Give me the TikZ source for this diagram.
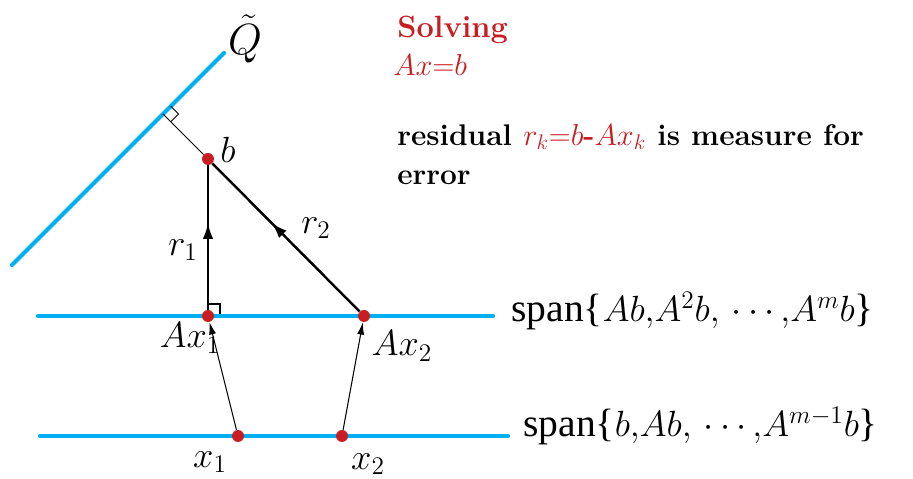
\documentclass[tikz,border=0pt]{standalone}
\usepackage{fontspec}
\setmainfont{Liberation Serif}
\newfontfamily\lmfont{Latin Modern Roman}
\usepackage{tikz}
\usetikzlibrary{arrows.meta, calc, decorations.markings}
\definecolor{myred}{RGB}{200,30,35}
\definecolor{myblue}{RGB}{0,176,240}
\tikzset{
  plane/.style={line width=2.4pt, color=myblue, line cap=round},
  resid/.style={line width=1.4pt, color=black, postaction={decorate},
    decoration={markings, mark=at position 0.6 with {\arrow{Latex[length=9pt,width=6pt]}}}},
  mapping/.style={-{Latex[length=7pt,width=4pt]}, line width=0.6pt},
  dot/.style={circle, fill=myred, inner sep=0pt, minimum size=0.24cm},
  lbl/.style={font=\fontsize{20}{24}\selectfont},
  bigtxt/.style={font=\fontsize{22.5}{26}\selectfont, anchor=west, inner sep=0pt},
  note/.style={font=\fontsize{17}{22}\selectfont\lmfont\bfseries, anchor=west, inner sep=0pt}
}
\begin{document}
\begin{tikzpicture}
  \useasboundingbox (0,0) rectangle (18.26,9.58);
  % plane Q and the two Krylov subspaces
  \coordinate (qlo) at (0.24,4.28);
  \coordinate (qhi) at (4.48,8.52);
  \coordinate (qf) at (3.26,7.30);
  \coordinate (ulo) at (0.76,3.26);
  \coordinate (uhi) at (9.86,3.26);
  \coordinate (llo) at (0.80,0.86);
  \coordinate (lhi) at (10.16,0.86);
  \draw[plane] (qlo) -- (qhi);
  \draw[plane] (ulo) -- (uhi);
  \draw[plane] (llo) -- (lhi);

  % points
  \node[dot] (b) at (4.16,6.40) {};
  \node[dot] (Ax1) at (4.16,3.26) {};
  \node[dot] (Ax2) at (7.28,3.26) {};
  \node[dot] (x1) at (4.76,0.86) {};
  \node[dot] (x2) at (6.84,0.86) {};

  % perpendicular from b onto Q
  \draw[line width=0.6pt] (b) -- (qf);
  \draw[line width=0.6pt] (qf) ++(0.155,0.155) -- ++(0.155,-0.155) -- ++(-0.155,-0.155);
  \draw[line width=0.6pt] (4.16,3.50) -- (4.40,3.50) -- (4.40,3.30);

  % residuals
  \draw[resid] (Ax1) -- (b);
  \draw[resid] (Ax2) -- (b);
  \draw[mapping] (x1) -- (Ax1);
  \draw[mapping] (x2) -- (Ax2);

  % labels
  \node[lbl, font=\fontsize{24}{28}\selectfont] (qlab) at (4.90,8.80) {$\tilde{Q}$};
  \node[lbl] (blab) at (4.56,6.58) {$b$};
  \node[lbl] (r1lab) at (3.66,4.58) {$r_1$};
  \node[lbl] (r2lab) at (6.32,5.02) {$r_2$};
  \node[lbl] (Ax1lab) at (3.80,2.82) {$Ax_1$};
  \node[lbl] (Ax2lab) at (8.04,2.66) {$Ax_2$};
  \node[lbl] (x1lab) at (4.20,0.34) {$x_1$};
  \node[lbl] (x2lab) at (7.36,0.30) {$x_2$};

  \node[bigtxt] (spanA) at (10.22,3.36) {span\{$Ab{,}A^2b{,}\,\cdots{,}A^mb$\}};
  \node[bigtxt] (spanB) at (10.46,1.06) {span\{$b{,}Ab{,}\,\cdots{,}A^{m-1}b$\}};

  % explanation
  \node[note, font=\fontsize{17.5}{22}\selectfont\lmfont\bfseries, text=myred] (solv) at (7.94,8.98) {Solving};
  \node[anchor=west, inner sep=0pt, font=\fontsize{18}{22}\selectfont, text=myred] (eq) at (7.86,8.28) {$Ax{=}b$};
  \node[note] (res) at (7.94,6.84) {residual \textcolor{myred}{$r_k{=}b\mbox{-}Ax_k$} is measure for};
  \node[note] (err) at (7.94,6.02) {error};
\end{tikzpicture}
\end{document}
